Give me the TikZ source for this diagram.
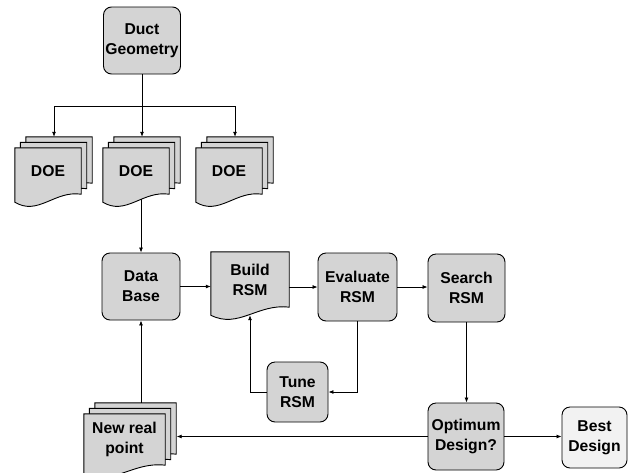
\documentclass[tikz,border=0pt]{standalone}
\usepackage{fontspec}
\setmainfont{Liberation Sans}
\usetikzlibrary{arrows.meta,calc,backgrounds}

\newcommand{\docsheet}[2]{%
  \filldraw[sheet] ($(#1.north west)+(#2,-#2)$) -- ($(#1.south west)+(#2,8-#2)$)
    .. controls ($(#1.south west)!0.35!(#1.south east)+(#2,22-#2)$)
    and ($(#1.south west)!0.6!(#1.south east)+(#2,-4-#2)$)
    .. ($(#1.south east)+(#2,-#2)$) -- ($(#1.north east)+(#2,-#2)$) -- cycle;}

\begin{document}
\begin{tikzpicture}[
	         x                = 1pt,
	         y                = -1pt,
	         font             = \fontsize{15.7}{20}\selectfont\bfseries,
	         box/.style       = {draw, fill=black!17, line width=0.9pt, rounded corners=8pt,
	                             align=center, inner sep=0pt},
	         doc/.style       = {align=center, inner sep=0pt},
	         sheet/.style     = {draw, fill=black!17, line width=0.9pt},
	         arrow/.style     = {line width=0.8pt, -{Latex[length=5pt, width=4pt]}}]
	  \useasboundingbox (0,0) rectangle (629,472);
	  \node [box, minimum width=77pt, minimum height=67pt] (duct) at (142,40.5) {Duct\\Geometry};
	  \node [doc, minimum width=66pt, minimum height=46pt] (doeA) at (48,171) {DOE};
	  \node [doc, minimum width=66pt, minimum height=46pt] (doeB) at (136,171) {DOE};
	  \node [doc, minimum width=66pt, minimum height=46pt] (doeC) at (229,171) {DOE};
	  \node [box, minimum width=78pt, minimum height=67pt] (db) at (141,286.5) {Data\\Base};
	  \node [doc, minimum width=78pt, minimum height=55pt] (bld) at (250,279.5) {Build\\RSM};
	  \node [box, minimum width=79pt, minimum height=68pt] (evl) at (357.5,287) {Evaluate\\RSM};
	  \node [box, minimum width=77pt, minimum height=68pt] (srch) at (466.5,288) {Search\\RSM};
	  \node [box, minimum width=61pt, minimum height=60pt] (tune) at (297.5,392) {Tune\\RSM};
	  \node [box, minimum width=76pt, minimum height=67pt] (opt) at (466,436.5) {Optimum\\Design?};
	  \node [box, fill=black!5, minimum width=65pt, minimum height=61pt] (best) at (594.5,437.5) {Best\\Design};
	  \node [doc, minimum width=81pt, minimum height=51pt] (nrp) at (124.5,439.5) {New real\\point};
	  \begin{pgfonlayer}{background}
	    \foreach \n in {doeA,doeB,doeC,nrp} {
	      \docsheet{\n}{11}
	      \docsheet{\n}{5.5}
	      \docsheet{\n}{0}
	    }
	    \docsheet{bld}{0}
	  \end{pgfonlayer}
	  \coordinate (split) at (142,106);
	  \coordinate (nrpback) at ($(nrp.north east)+(11.5,-11)$);
	  \draw [line width=0.8pt] (duct.south) -- (split);
	  \draw [arrow] (split) -| ($(doeA.north)+(6,-11)$);
	  \draw [arrow] (split) -- ($(doeB.north)+(6,-11)$);
	  \draw [arrow] (split) -| ($(doeC.north)+(6,-11)$);
	  \draw [arrow] ($(doeB.south -| db.north)+(0,5)$) -- (db.north);
	  \draw [arrow] (db.east) -- (db.east -| bld.west);
	  \draw [arrow] (bld.east |- evl.west) -- (evl.west);
	  \draw [arrow] (evl.east) -- (evl.east -| srch.west);
	  \draw [arrow] (evl.south) |- (tune.east);
	  \draw [arrow] (tune.west) -| ($(bld.south)+(0,8)$);
	  \draw [arrow] (srch.south) -- (srch.south |- opt.north);
	  \draw [arrow] (opt.east) -- (opt.east -| best.west);
	  \draw [arrow] (opt.west) -- (opt.west -| nrpback);
	  \draw [arrow] (db.south |- nrpback) -- (db.south);
\end{tikzpicture}
\end{document}
